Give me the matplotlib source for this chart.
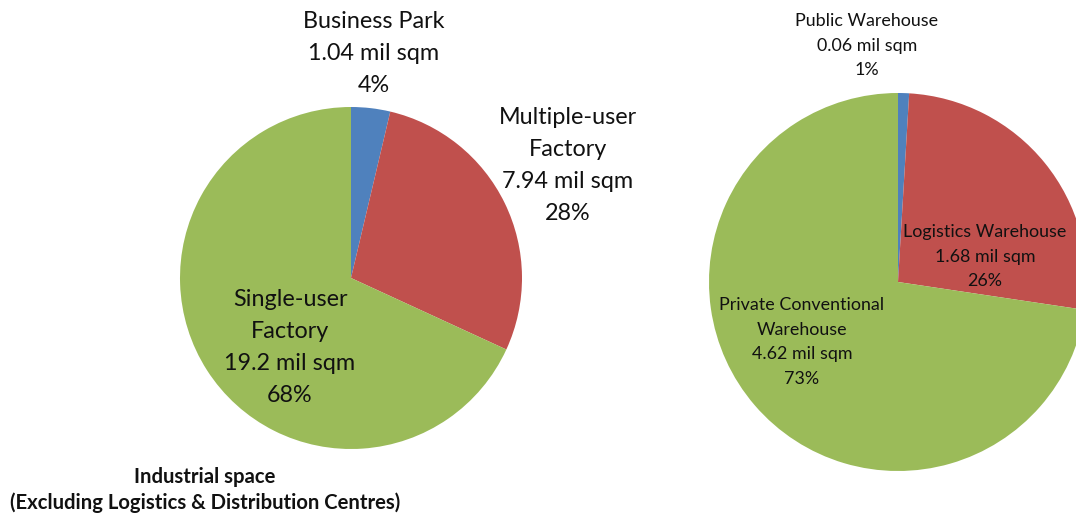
import matplotlib
matplotlib.use("Agg")
import matplotlib.pyplot as plt

plt.rcParams['font.family'] = ['Lato', 'DejaVu Sans']

# Data
left_categories = ["Business Park", "Multiple-user\nFactory", "Single-user\nFactory"]
left_values = [1.04, 7.94, 19.2]
left_value_labels = ["1.04", "7.94", "19.2"]
right_categories = ["Public Warehouse", "Logistics Warehouse", "Private Conventional\nWarehouse"]
right_values = [0.06, 1.68, 4.62]
right_value_labels = ["0.06", "1.68", "4.62"]
colors = ["#4F81BD", "#C0504D", "#9BBB59"]
left_title = "Industrial space\n(Excluding Logistics & Distribution Centres)"

W, H = 1076, 517
fig = plt.figure(figsize=(W / 100, H / 100), dpi=100)


def add_pie(cx, cy, r, values):
    ax = fig.add_axes([(cx - r) / W, (H - cy - r) / H, 2 * r / W, 2 * r / H])
    ax.pie(values, colors=colors, startangle=90, counterclock=False,
           radius=1.0, wedgeprops=dict(linewidth=0))
    ax.set_xlim(-1, 1)
    ax.set_ylim(-1, 1)
    ax.set_aspect('auto')
    ax.axis('off')
    return ax


add_pie(351, 278, 171, left_values)
add_pie(898, 282, 189, right_values)


def block(x, y0, lines, dy, size, weight='normal'):
    for i, s in enumerate(lines):
        fig.text(x / W, 1 - (y0 + i * dy) / H, s, ha='center', va='center',
                 fontsize=size, fontweight=weight, color='#111111')


def pct(vals):
    t = sum(vals)
    return [f"{round(v / t * 100):d}%" for v in vals]


lp = pct(left_values)
rp = pct(right_values)

left_pos = [(374, 21), (568, 118), (290, 299)]
for cat, vl, p, (x, y) in zip(left_categories, left_value_labels, lp, left_pos):
    lines = cat.split("\n") + [f"{vl} mil sqm", p]
    block(x, y, lines, 32, 16.8)

right_pos = [(867, 21), (985, 232), (802, 305)]
for cat, vl, p, (x, y) in zip(right_categories, right_value_labels, rp, right_pos):
    lines = cat.split("\n") + [f"{vl} mil sqm", p]
    block(x, y, lines, 24.7, 12.9)

block(205, 477, left_title.split("\n"), 26, 14.6, weight='bold')

fig.savefig("out.png", dpi=100, facecolor='white')
